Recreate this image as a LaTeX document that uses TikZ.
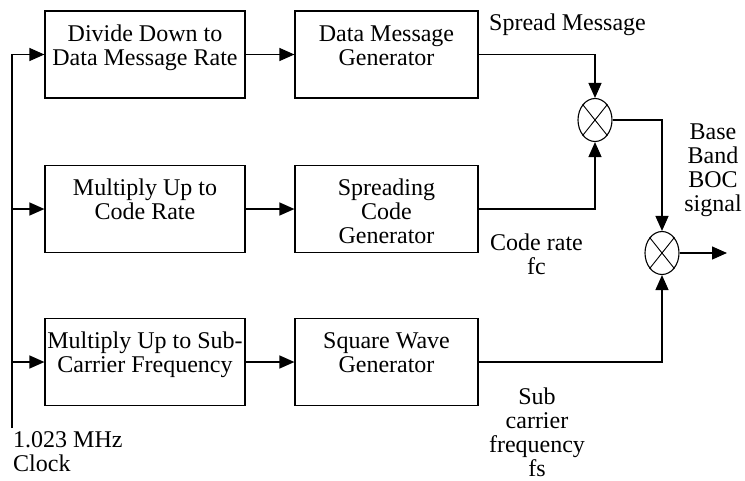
\documentclass[tikz,border=0pt]{standalone}
\usepackage{fontspec}
\setmainfont{Liberation Serif}
\usetikzlibrary{arrows.meta, shapes, positioning}
\tikzset{
    blocknode/.style = {draw, rectangle, inner sep=0pt, minimum height=87pt, align=center, 
      node distance=0pt, line width=1.2pt},
    textnode/.style  = {draw=none, fill=none, rectangle, inner sep=0pt, node distance=0pt, align=center},
    mixnode/.style = {draw, ellipse, minimum width=34pt, minimum height=43pt, inner sep=0pt, 
      node distance=0pt, line width=1.1pt},
    connect/.style = {black, line width=1.3pt, -{Triangle[length=15pt,width=13pt]}}
}
\newcommand{\gap}{\rule{0pt}{21pt}}

\begin{document}
\begin{tikzpicture}[x=1pt, y=1pt, font=\fontsize{24}{24}\selectfont]
    \useasboundingbox (0,0) rectangle (745,-480);

    \node [name=divnode, blocknode, minimum width=200pt] at (145,-54.5) 
        {\gap Divide Down to\\Data Message Rate\\\mbox{}}; 
    \node [name=datnode, blocknode, minimum width=183pt, 
        right of = divnode, xshift=241.5pt] {\gap Data Message\\Generator\\\mbox{}}; 

    \node [name=codenode, blocknode, minimum width=200pt, 
        below of = divnode, yshift=-154.5pt] {\gap Multiply Up to\\Code Rate\\\mbox{}}; 
    \node [name=sprnode, blocknode, minimum width=183pt, 
        right of = codenode, xshift=241.5pt] {\gap Spreading\\Code\\Generator}; 

    \node [name=subnode, blocknode, minimum width=200pt, 
        below of = codenode, yshift=-153pt] {\gap Multiply Up to Sub-\\Carrier Frequency\\\mbox{}}; 
    \node [name=sqnode, blocknode, minimum width=183pt, 
        right of = subnode, xshift=241.5pt] {\gap Square Wave\\Generator\\\mbox{}}; 

    \node [name=mix1, mixnode] at (595,-120) {};
    \node [name=mix2, mixnode] at (662,-253) {};
    \draw [line width=0.9pt] (mix1.north west) -- (mix1.south east) (mix1.north east) -- (mix1.south west);
    \draw [line width=0.9pt] (mix2.north west) -- (mix2.south east) (mix2.north east) -- (mix2.south west);

    \coordinate (clk) at (12,-428);
    \coordinate (out) at (727,-253);

    \node [textnode, name=spreadlbl, anchor=base west] at (489,-30.5) {Spread Message};
    \node [textnode, name=boclbl, anchor=north] at (713,-123.5) {Base\\Band\\BOC\\signal};
    \node [textnode, name=fclbl, anchor=north] at (536.5,-233.6) {Code rate\\fc};
    \node [textnode, name=fslbl, anchor=north] at (537,-387.5) {Sub\\carrier\\frequency\\fs};
    \node [textnode, name=clklbl, anchor=north west, align=left] at (13,-431) {1.023 MHz\\Clock};

    \draw [connect] (clk) |- (divnode.west); 
    \draw [connect] (clk |- codenode.west) -- (codenode.west); 
    \draw [connect] (clk |- subnode.west) -- (subnode.west); 

    \draw [connect] (divnode) -- (datnode); 
    \draw [connect] (codenode) -- (sprnode); 
    \draw [connect] (subnode) -- (sqnode); 

    \draw [connect] (datnode.east) -| (mix1.north); 
    \draw [connect] (sprnode.east) -| (mix1.south); 
    \draw [connect] (mix1.east) -| (mix2.north); 
    \draw [connect] (sqnode.east) -| (mix2.south); 
    \draw [connect] (mix2.east) -- (out); 
\end{tikzpicture}
\end{document}
